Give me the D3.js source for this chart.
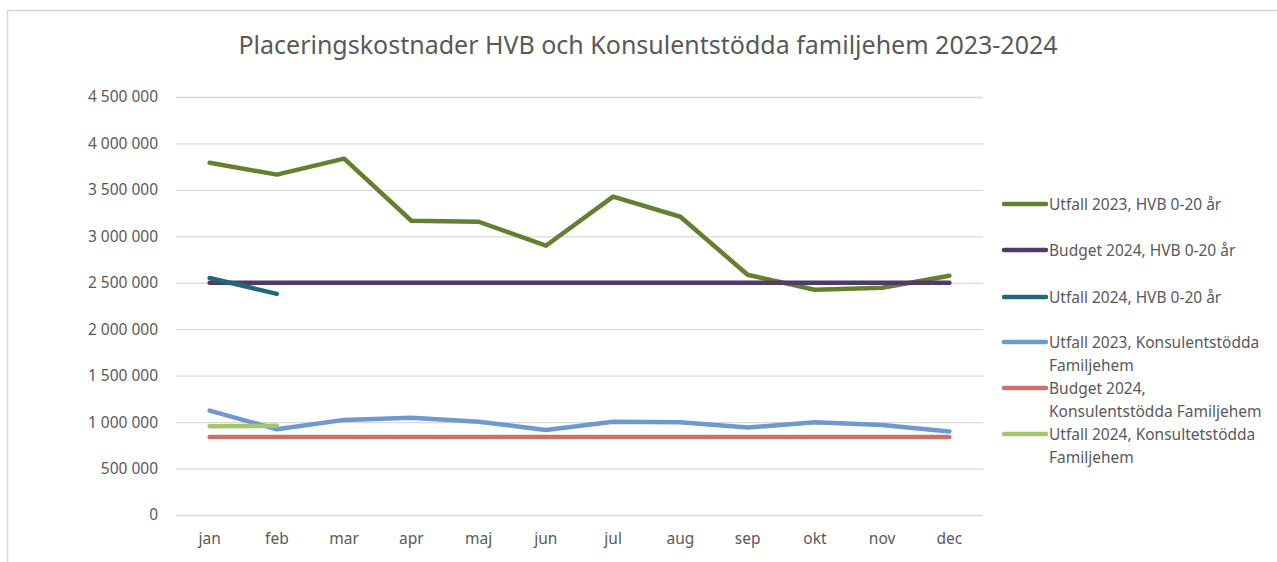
<!DOCTYPE html>
<html>
<head>
<meta charset="utf-8">
<script src="https://cdn.jsdelivr.net/npm/d3@7"></script>
<style>
  body { margin: 0; background: #fff; }
  svg text { font-family: "Noto Sans", "Open Sans", sans-serif; fill: #595959; }
</style>
</head>
<body>
<div id="chart"></div>
<script>
// Months on the x axis
const months = ['jan', 'feb', 'mar', 'apr', 'maj', 'jun', 'jul', 'aug', 'sep', 'okt', 'nov', 'dec'];

// Series values (kr)
const utfall2023Hvb = [3793000, 3664000, 3836000, 3168000, 3157000, 2899000, 3427000, 3211000, 2586000, 2425000, 2446000, 2575000];
const budget2024Hvb = [2500000, 2500000, 2500000, 2500000, 2500000, 2500000, 2500000, 2500000, 2500000, 2500000, 2500000, 2500000];
const utfall2024Hvb = [2551000, 2381000];
const utfall2023Kons = [1124000, 923000, 1024000, 1048000, 1005000, 916000, 1005000, 999000, 941000, 999000, 970000, 898000];
const budget2024Kons = [840000, 840000, 840000, 840000, 840000, 840000, 840000, 840000, 840000, 840000, 840000, 840000];
const utfall2024Kons = [955000, 960000];

const yTicks = [0, 500000, 1000000, 1500000, 2000000, 2500000, 3000000, 3500000, 4000000, 4500000];

const series = [
  { name: ['Utfall 2023, HVB 0-20 år'], values: utfall2023Hvb, color: '#64802f' },
  { name: ['Budget 2024, HVB 0-20 år'], values: budget2024Hvb, color: '#4e3b67' },
  { name: ['Utfall 2024, HVB 0-20 år'], values: utfall2024Hvb, color: '#23687a' },
  { name: ['Utfall 2023, Konsulentstödda', 'Familjehem'], values: utfall2023Kons, color: '#6e98cf' },
  { name: ['Budget 2024,', 'Konsulentstödda Familjehem'], values: budget2024Kons, color: '#cf6f6c' },
  { name: ['Utfall 2024, Konsultetstödda', 'Familjehem'], values: utfall2024Kons, color: '#a3c56b' }
];

const width = 1277, height = 562;
const plot = { left: 176, right: 983, top: 97, bottom: 515 };

const svg = d3.select('#chart')
  .append('svg')
  .attr('width', width)
  .attr('height', height);

// Outer chart frame (only the top and left edges show in the picture)
svg.append('path')
  .attr('d', `M7.5,${height} V10.5 H${width}`)
  .attr('fill', 'none')
  .attr('stroke', '#d9d9d9')
  .attr('stroke-width', 1.5);

// Title
svg.append('text')
  .attr('x', 648)
  .attr('y', 54)
  .attr('text-anchor', 'middle')
  .style('font-size', '25px')
  .text('Placeringskostnader HVB och Konsulentstödda familjehem 2023-2024');

// Scales
const x = d3.scaleBand()
  .domain(months)
  .range([plot.left, plot.right]);

const y = d3.scaleLinear()
  .domain([0, 4500000])
  .range([plot.bottom, plot.top]);

const fmt = (v) => d3.format(',')(v).replace(/,/g, ' ');

// Gridlines + y labels
const yAxis = svg.append('g')
  .attr('transform', `translate(${plot.left},0)`)
  .call(d3.axisLeft(y)
    .tickValues(yTicks)
    .tickSize(-(plot.right - plot.left))
    .tickPadding(18)
    .tickFormat(fmt));
yAxis.select('.domain').remove();
yAxis.selectAll('.tick line').attr('stroke', '#d9d9d9').attr('stroke-width', 1.3);
yAxis.selectAll('.tick text')
  .style('font-size', '15.5px')
  .style('font-family', '"Noto Sans", sans-serif')
  .attr('fill', '#595959');

// x labels
const xAxis = svg.append('g')
  .attr('transform', `translate(0,${plot.bottom})`)
  .call(d3.axisBottom(x).tickSize(0).tickPadding(18));
xAxis.select('.domain').remove();
xAxis.selectAll('.tick text')
  .style('font-size', '15.5px')
  .style('font-family', '"Noto Sans", sans-serif')
  .attr('fill', '#595959');

// Lines
const line = d3.line()
  .x((d, i) => x(months[i]) + x.bandwidth() / 2)
  .y((d) => y(d));

svg.append('g')
  .selectAll('path')
  .data(series)
  .join('path')
  .attr('d', (d) => line(d.values))
  .attr('fill', 'none')
  .attr('stroke', (d) => d.color)
  .attr('stroke-width', 4.5)
  .attr('stroke-linecap', 'round')
  .attr('stroke-linejoin', 'round');

// Legend
const legendY = [204, 250, 297, 342, 388, 434];
const legend = svg.append('g')
  .selectAll('g')
  .data(series)
  .join('g')
  .attr('transform', (d, i) => `translate(1004,${legendY[i]})`);

legend.append('line')
  .attr('x1', 0)
  .attr('x2', 42)
  .attr('stroke', (d) => d.color)
  .attr('stroke-width', 4.5)
  .attr('stroke-linecap', 'round');

legend.append('text')
  .attr('x', 45)
  .attr('y', 6)
  .style('font-size', '15.5px')
  .selectAll('tspan')
  .data((d) => d.name)
  .join('tspan')
  .attr('x', 45)
  .attr('dy', (d, i) => i === 0 ? 0 : 23)
  .text((d) => d);
</script>
</body>
</html>
